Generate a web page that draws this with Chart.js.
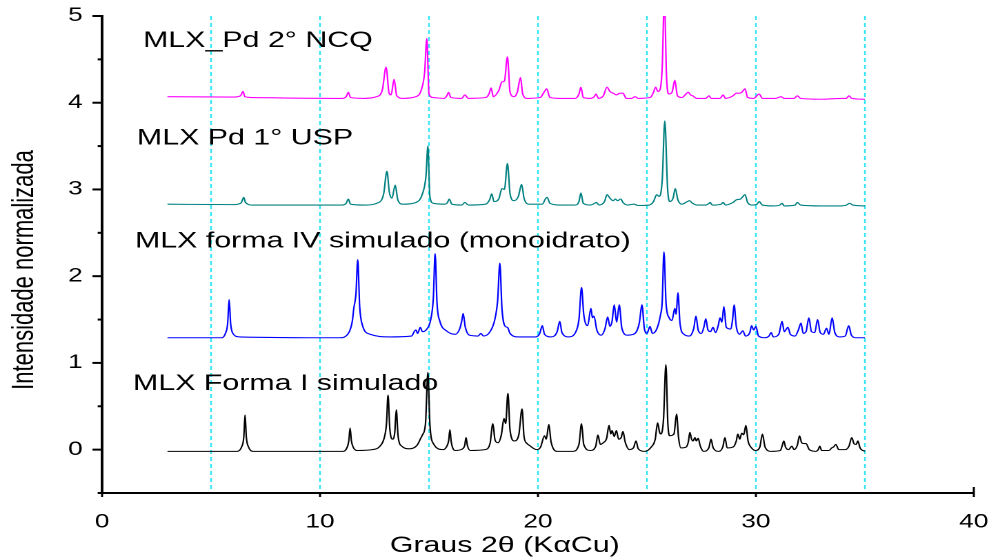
<!DOCTYPE html>
<html>
<head>
<meta charset="utf-8">
<script src="https://cdn.jsdelivr.net/npm/chart.js@4.4.0/dist/chart.umd.min.js"></script>
<style>
  html, body { margin: 0; padding: 0; background: #fff; overflow: hidden; }
  /* the original picture is stretched sideways, so draw narrow and stretch to 989px */
  #xrd { display: block; transform-origin: 0 0; transform: scaleX(1.37936); }
</style>
</head>
<body>
<canvas id="xrd" width="717" height="560"></canvas>
<script>
// [2theta, normalised intensity]
const formaI = [
  [3,-0.02],[6.2,-0.02],[6.4,0.03],[6.5,0.14],[6.56,0.40],[6.62,0.14],[6.72,0.03],[6.95,-0.02],
  [11.05,-0.02],[11.25,0.03],[11.32,0.1],[11.38,0.25],[11.44,0.1],[11.52,0.03],[11.7,-0.01],
  [12.4,0.0],[12.75,0.04],[12.95,0.14],[13.05,0.3],[13.12,0.63],[13.2,0.25],[13.33,0.12],[13.43,0.2],[13.5,0.46],[13.58,0.16],[13.75,0.04],[14.1,0.01],
  [14.45,0.05],[14.62,0.13],[14.7,0.17],[14.84,0.3],[14.95,0.89],[15.04,0.3],[15.2,0.07],[15.65,0.0],
  [15.82,0.04],[15.9,0.1],[15.96,0.23],[16.02,0.09],[16.2,-0.01],
  [16.55,0.01],[16.64,0.05],[16.7,0.14],[16.76,0.05],[16.9,-0.01],
  [17.57,0.0],[17.8,0.07],[17.93,0.30],[18.03,0.11],[18.17,0.08],[18.32,0.17],[18.44,0.36],[18.52,0.3],[18.62,0.65],[18.72,0.22],[18.92,0.1],[19.12,0.17],[19.27,0.47],[19.36,0.15],[19.5,0.07],[19.6,0.05],[19.95,0.0],
  [20.12,0.03],[20.3,0.16],[20.38,0.12],[20.5,0.29],[20.6,0.09],[20.9,-0.02],
  [21.6,-0.02],[21.88,0.06],[22.0,0.30],[22.1,0.06],[22.4,-0.01],
  [22.65,0.04],[22.75,0.17],[22.86,0.06],[23.0,0.08],[23.15,0.13],[23.26,0.28],[23.34,0.18],[23.4,0.22],[23.5,0.15],[23.6,0.22],[23.7,0.12],[23.82,0.14],[23.9,0.21],[24.0,0.09],[24.2,0.0],
  [24.38,0.02],[24.5,0.1],[24.6,0.01],[24.9,-0.02],
  [25.2,0.03],[25.38,0.12],[25.49,0.31],[25.58,0.2],[25.64,0.18],[25.76,0.35],[25.87,0.98],[25.96,0.3],[26.05,0.16],[26.24,0.18],[26.36,0.41],[26.45,0.14],[26.56,0.02],
  [26.8,0.03],[26.9,0.09],[26.97,0.20],[27.05,0.12],[27.12,0.1],[27.2,0.14],[27.27,0.1],[27.35,0.13],[27.45,0.04],[27.6,-0.02],
  [27.84,0.02],[27.94,0.12],[28.04,0.02],[28.3,-0.02],
  [28.48,0.03],[28.58,0.14],[28.68,0.02],[28.95,0.03],[29.1,0.1],[29.17,0.18],[29.26,0.12],[29.35,0.19],[29.44,0.17],[29.54,0.28],[29.64,0.1],[29.8,0.02],[29.98,-0.01],
  [30.18,0.03],[30.3,0.18],[30.42,0.03],[30.7,-0.02],
  [31.12,-0.01],[31.2,0.04],[31.28,0.1],[31.36,0.03],[31.5,0.0],[31.65,0.04],[31.75,0.0],[31.9,0.05],[32.0,0.16],[32.1,0.08],[32.2,0.07],[32.3,0.07],[32.45,0.0],[32.75,-0.02],
  [32.86,0.0],[32.93,0.04],[33.02,-0.01],[33.35,-0.01],[33.48,0.02],[33.56,0.03],[33.67,0.06],[33.8,0.0],[34.1,0.0],[34.27,0.04],[34.4,0.14],[34.5,0.07],[34.6,0.06],[34.68,0.1],[34.78,0.02],[35.0,-0.02]
];

const formaIV = [
  [3,1.29],[5.5,1.29],[5.66,1.34],[5.76,1.45],[5.83,1.73],[5.9,1.45],[6.0,1.34],[6.3,1.3],
  [10.9,1.29],[11.3,1.34],[11.48,1.48],[11.55,1.63],[11.65,1.8],[11.73,2.19],[11.82,1.65],[11.95,1.43],[12.3,1.33],[13.2,1.3],
  [14.2,1.31],[14.32,1.36],[14.4,1.38],[14.48,1.34],[14.6,1.41],[14.7,1.36],[14.9,1.39],[15.08,1.5],[15.2,1.75],[15.28,2.26],[15.37,1.68],[15.5,1.48],[15.8,1.37],[16.2,1.33],
  [16.42,1.4],[16.5,1.48],[16.57,1.57],[16.66,1.42],[16.85,1.32],[17.25,1.31],[17.38,1.34],[17.5,1.31],[17.8,1.36],[18.02,1.5],[18.15,1.72],[18.25,2.15],[18.35,1.62],[18.5,1.42],[18.6,1.41],[18.72,1.34],[19.1,1.3],[19.9,1.3],
  [20.08,1.34],[20.2,1.43],[20.3,1.33],[20.6,1.3],[20.88,1.36],[21.0,1.48],[21.1,1.35],[21.4,1.3],
  [21.72,1.35],[21.88,1.5],[22.0,1.87],[22.1,1.56],[22.28,1.43],[22.43,1.63],[22.5,1.52],[22.57,1.54],[22.7,1.38],[22.9,1.32],
  [23.07,1.39],[23.2,1.53],[23.3,1.42],[23.4,1.48],[23.5,1.67],[23.61,1.47],[23.73,1.67],[23.85,1.4],[24.1,1.32],
  [24.45,1.34],[24.65,1.46],[24.77,1.67],[24.88,1.4],[25.0,1.34],[25.14,1.42],[25.25,1.34],[25.45,1.39],[25.62,1.55],[25.7,1.7],[25.78,2.28],[25.88,1.68],[26.02,1.52],[26.15,1.49],[26.28,1.63],[26.34,1.56],[26.42,1.81],[26.52,1.45],[26.7,1.33],[26.95,1.31],
  [27.15,1.4],[27.25,1.54],[27.35,1.38],[27.5,1.34],[27.62,1.42],[27.7,1.51],[27.8,1.38],[27.92,1.36],[28.03,1.41],[28.15,1.35],[28.28,1.44],[28.35,1.52],[28.44,1.47],[28.53,1.65],[28.64,1.41],[28.85,1.39],[28.93,1.5],[29.0,1.67],[29.1,1.42],[29.25,1.33],[29.4,1.37],[29.52,1.31],[29.72,1.35],[29.8,1.43],[29.9,1.38],[30.0,1.42],[30.12,1.31],[30.4,1.29],
  [30.6,1.31],[30.7,1.35],[30.8,1.3],[31.05,1.33],[31.2,1.48],[31.3,1.36],[31.47,1.41],[31.58,1.33],[31.8,1.31],[31.95,1.38],[32.07,1.46],[32.17,1.34],[32.3,1.36],[32.43,1.52],[32.55,1.36],[32.7,1.35],[32.83,1.5],[32.95,1.35],[33.1,1.33],[33.24,1.4],[33.35,1.33],[33.5,1.52],[33.62,1.35],[33.85,1.3],[34.1,1.31],[34.26,1.43],[34.38,1.32],[34.6,1.29],[35.0,1.29]
];

const pd1USP = [
  [3,2.83],[6.0,2.825],[6.38,2.845],[6.5,2.91],[6.58,2.85],[6.9,2.82],
  [11.0,2.82],[11.2,2.84],[11.3,2.89],[11.4,2.83],[12.0,2.82],
  [12.7,2.85],[12.92,2.95],[13.07,3.21],[13.18,2.97],[13.3,2.9],[13.45,3.05],[13.57,2.88],[13.8,2.83],
  [14.4,2.85],[14.7,2.95],[14.86,3.15],[14.95,3.5],[15.04,2.92],[15.2,2.84],
  [15.72,2.83],[15.85,2.85],[15.93,2.89],[16.05,2.83],[16.5,2.82],[16.65,2.85],[16.8,2.82],
  [17.6,2.83],[17.78,2.88],[17.88,2.95],[17.98,2.86],[18.2,2.89],[18.35,3.01],[18.46,3.0],[18.6,3.30],[18.72,2.95],[18.9,2.87],[19.1,2.92],[19.25,3.06],[19.36,2.9],[19.6,2.83],
  [20.2,2.83],[20.34,2.89],[20.42,2.91],[20.55,2.84],[21.0,2.82],
  [21.7,2.82],[21.88,2.86],[21.97,2.96],[22.08,2.84],[22.4,2.82],[22.6,2.84],[22.68,2.85],[22.8,2.82],
  [23.05,2.86],[23.17,2.94],[23.3,2.9],[23.45,2.87],[23.55,2.89],[23.65,2.87],[23.8,2.89],[23.9,2.85],[24.1,2.82],[24.4,2.83],[24.6,2.815],
  [25.1,2.82],[25.3,2.86],[25.45,2.94],[25.55,2.92],[25.7,3.1],[25.82,3.79],[25.95,3.0],[26.05,2.86],[26.2,2.9],[26.3,3.01],[26.42,2.88],[26.6,2.83],
  [26.85,2.86],[26.95,2.87],[27.1,2.84],[27.3,2.82],[27.7,2.82],[27.85,2.84],[27.9,2.85],[28.0,2.82],[28.4,2.83],[28.5,2.85],[28.6,2.82],
  [28.95,2.85],[29.1,2.88],[29.3,2.89],[29.5,2.94],[29.62,2.85],[29.85,2.82],[30.05,2.83],[30.15,2.86],[30.3,2.82],
  [30.8,2.81],[31.1,2.82],[31.2,2.84],[31.3,2.81],[31.8,2.82],[31.9,2.85],[32.05,2.82],[33.0,2.81],[33.8,2.81],[34.15,2.82],[34.3,2.84],[34.45,2.82],[35,2.81]
];

const pd2NCQ = [
  [3,4.07],[6.0,4.065],[6.35,4.08],[6.47,4.13],[6.55,4.07],[6.9,4.06],
  [11.0,4.05],[11.2,4.07],[11.3,4.12],[11.4,4.06],[12.0,4.05],
  [12.6,4.07],[12.86,4.15],[13.03,4.41],[13.17,4.11],[13.26,4.09],[13.4,4.27],[13.52,4.08],[13.8,4.05],
  [14.4,4.07],[14.65,4.15],[14.8,4.35],[14.9,4.74],[15.0,4.1],[15.2,4.06],
  [15.7,4.05],[15.82,4.08],[15.9,4.12],[16.0,4.06],[16.5,4.05],[16.65,4.09],[16.8,4.05],
  [17.6,4.06],[17.75,4.1],[17.85,4.17],[17.95,4.07],[18.2,4.14],[18.35,4.24],[18.46,4.25],[18.6,4.53],[18.72,4.12],[18.9,4.07],[19.05,4.12],[19.2,4.29],[19.3,4.1],[19.5,4.05],
  [20.1,4.06],[20.3,4.13],[20.4,4.16],[20.55,4.06],[21.0,4.05],
  [21.7,4.05],[21.88,4.1],[21.97,4.18],[22.08,4.06],[22.4,4.05],[22.58,4.07],[22.66,4.10],[22.78,4.05],
  [23.0,4.08],[23.17,4.18],[23.3,4.13],[23.45,4.11],[23.6,4.09],[23.76,4.11],[23.9,4.11],[24.05,4.05],[24.3,4.05],[24.45,4.07],[24.6,4.05],
  [25.15,4.06],[25.3,4.12],[25.4,4.18],[25.5,4.13],[25.6,4.15],[25.7,4.4],[25.8,5.2],[25.9,4.3],[26.0,4.1],[26.15,4.12],[26.28,4.26],[26.4,4.08],[26.6,4.06],
  [26.9,4.12],[27.0,4.09],[27.1,4.08],[27.3,4.05],[27.7,4.05],[27.85,4.08],[27.95,4.05],[28.35,4.05],[28.5,4.09],[28.6,4.05],
  [28.95,4.08],[29.1,4.11],[29.25,4.11],[29.35,4.12],[29.5,4.16],[29.62,4.06],[29.9,4.05],[30.15,4.1],[30.3,4.05],
  [30.9,4.05],[31.15,4.07],[31.3,4.05],[31.75,4.05],[31.9,4.08],[32.05,4.05],[33.0,4.04],[33.9,4.05],[34.15,4.05],[34.27,4.08],[34.4,4.05],[35,4.04]
];

const seriesNames = ['MLX Forma I simulado', 'MLX forma IV simulado (monoidrato)', 'MLX Pd 1° USP', 'MLX_Pd 2° NCQ'];
const seriesColors = ['#000000', '#0000ff', '#008080', '#ff00ff'];
// where each name sits, in axis units (left end, baseline)
const nameAnchors = [[1.42, 0.69], [1.51, 2.33], [1.6, 3.52], [1.88, 4.64]];
const dashedAt = [5, 10, 15, 20, 25, 30, 35];
const xTitle = 'Graus 2θ (KαCu)';
const yTitle = 'Intensidade normalizada';

const FONT = '"Liberation Sans", Arial, sans-serif';
Chart.defaults.font.family = FONT;
Chart.defaults.color = '#000';

const decor = {
  id: 'decor',
  beforeDatasetsDraw(chart) {
    const { ctx, chartArea: a, scales: { x } } = chart;
    ctx.save();
    ctx.strokeStyle = '#2ee4f2';
    ctx.lineWidth = 1.2;
    ctx.setLineDash([4, 3]);
    dashedAt.forEach(v => {
      const px = x.getPixelForValue(v);
      ctx.beginPath();
      ctx.moveTo(px, a.top);
      ctx.lineTo(px, a.bottom - 1);
      ctx.stroke();
    });
    ctx.restore();
  },
  afterDraw(chart) {
    const { ctx, chartArea: a, scales: { x, y } } = chart;
    ctx.save();
    ctx.strokeStyle = '#000';

    // y ticks: long at whole numbers, short at halves
    ctx.lineWidth = 2;
    y.ticks.forEach(t => {
      const py = y.getPixelForValue(t.value);
      const len = Number.isInteger(t.value) ? 7 : 3.2;
      ctx.beginPath();
      ctx.moveTo(a.left - len, py);
      ctx.lineTo(a.left, py);
      ctx.stroke();
    });

    // x ticks
    ctx.lineWidth = 1.5;
    [0, 10, 20, 30, 40].forEach(v => {
      const px = x.getPixelForValue(v);
      const up = v === 40 ? 6 : 1;
      ctx.beginPath();
      ctx.moveTo(px, a.bottom - up);
      ctx.lineTo(px, a.bottom + 4);
      ctx.stroke();
    });

    ctx.fillStyle = '#000';
    ctx.font = '22px ' + FONT;
    ctx.textAlign = 'left';
    ctx.textBaseline = 'alphabetic';
    seriesNames.forEach((name, i) => {
      const [ax, ay] = nameAnchors[i];
      ctx.fillText(name, x.getPixelForValue(ax), y.getPixelForValue(ay));
    });

    ctx.textAlign = 'center';
    ctx.fillText(xTitle, x.getPixelForValue(18.48), 552);

    ctx.translate(24, 270);
    ctx.rotate(-Math.PI / 2);
    ctx.fillText(yTitle, 0, 0);
    ctx.restore();
  }
};

const series = [formaI, formaIV, pd1USP, pd2NCQ];

new Chart(document.getElementById('xrd'), {
  type: 'line',
  data: {
    datasets: series.map((pts, i) => ({
      label: seriesNames[i],
      data: pts.map(p => ({ x: p[0], y: p[1] })),
      borderColor: seriesColors[i],
      borderWidth: 1.1,
      pointRadius: 0,
      cubicInterpolationMode: 'monotone',
      fill: false
    }))
  },
  options: {
    responsive: false,
    devicePixelRatio: 2,
    animation: false,
    layout: { padding: { top: 16, right: 11, left: 0, bottom: 0 } },
    plugins: { legend: { display: false }, tooltip: { enabled: false } },
    scales: {
      x: {
        type: 'linear',
        min: 0,
        max: 40,
        // tick marks are drawn by the plugin; tickLength only spaces the labels
        grid: { display: false, drawTicks: true, tickLength: 18 },
        border: { display: true, color: '#000', width: 2 },
        ticks: {
          stepSize: 5,
          autoSkip: false,
          maxRotation: 0,
          padding: 0,
          font: { size: 19 },
          callback: v => (v % 10 === 0 ? v : '')
        },
        afterFit: s => { s.height = 67; }
      },
      y: {
        min: -0.5,
        max: 5,
        grid: { display: false, drawTicks: true, tickLength: 14 },
        border: { display: true, color: '#000', width: 2 },
        ticks: {
          stepSize: 0.5,
          autoSkip: false,
          padding: 0,
          font: { size: 19 },
          callback: v => (Number.isInteger(v) ? v : '')
        },
        afterFit: s => { s.width = 74; }
      }
    }
  },
  plugins: [decor]
});
</script>
</body>
</html>
